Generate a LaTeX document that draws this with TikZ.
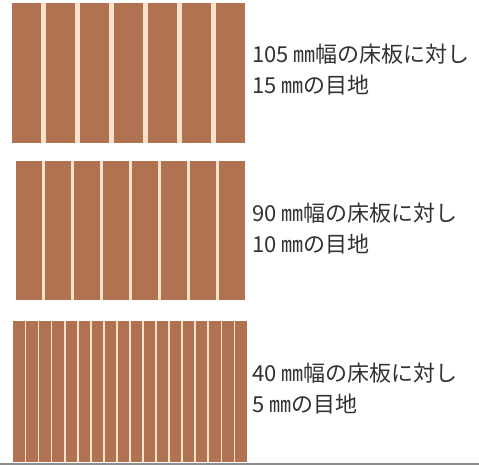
\documentclass[tikz,border=0pt]{standalone}
\usepackage{fontspec}
\newfontfamily\jpfont{Noto Sans CJK JP}
\definecolor{board}{RGB}{176,114,80}
\definecolor{joint}{RGB}{250,226,202}
\definecolor{txt}{RGB}{50,50,50}
\definecolor{rule}{RGB}{140,140,140}
\tikzset{
  label text/.style={anchor=north west, inner sep=0pt, align=left, text=txt,
    font=\jpfont\fontsize{22}{31}\selectfont},
}
\begin{document}
\begin{tikzpicture}[x=1pt,y=-1pt]
\useasboundingbox[fill=white] (0,0) rectangle (479,465);
% panel 1: 7 boards
\fill[joint] (12,3) rectangle (245,143);
\foreach \i in {0,...,6}{
  \fill[board] ({12+\i*34},3) rectangle ({12+\i*34+29},143);
}
% panel 2: 8 boards
\fill[joint] (16,161) rectangle (245,300);
\foreach \i in {0,...,7}{
  \fill[board] ({16+\i*29.05},161) rectangle ({16+\i*29.05+25.65},300);
}
% panel 3: 18 boards
\fill[joint] (13.3,321) rectangle (246.7,461.7);
\foreach \i in {0,...,17}{
  \fill[board] ({13.3+\i*13.06},321) rectangle ({13.3+\i*13.06+11.3},461.7);
}
% bottom rule
\draw[rule, line width=1.5pt] (0,463.8) -- (479,463.8);
% labels
\node[label text] (t1) at (252,44) {105 ㎜幅の床板に対し\\15 ㎜の目地};
\node[label text] (t2) at (252,203) {90 ㎜幅の床板に対し\\10 ㎜の目地};
\node[label text] (t3) at (252,363) {40 ㎜幅の床板に対し\\5 ㎜の目地};
\end{tikzpicture}
\end{document}
